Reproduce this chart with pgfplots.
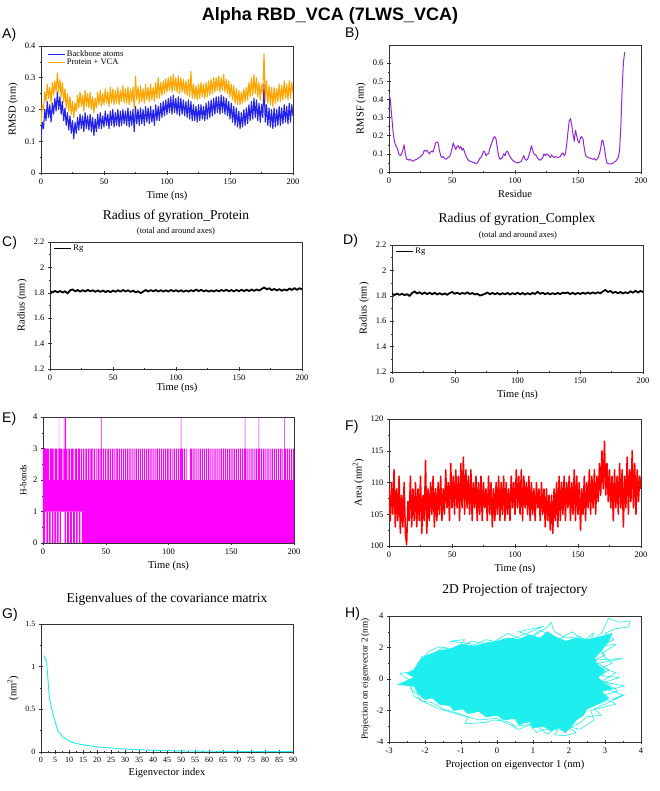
\documentclass[border=0pt]{standalone}
\usepackage{fontspec}
\setmainfont{Liberation Serif}
\newfontfamily\sansf{Liberation Sans}
\usepackage{pgfplots}
\usepackage{pgfplotstable}
\pgfplotsset{compat=1.18}
\definecolor{cBlue}{RGB}{35,35,235}
\definecolor{cOrange}{RGB}{255,165,0}
\definecolor{cPurple}{RGB}{150,40,220}
\definecolor{cMag}{RGB}{255,0,255}
\definecolor{cRed}{RGB}{255,0,0}
\definecolor{cCyan}{RGB}{30,238,238}
\pgfplotsset{
  panel/.style={
    scale only axis, width=252pt, height=127pt, anchor=north west,
    axis line style={line width=0.7pt, black!80},
    tick align=center, xtick pos=bottom, ytick pos=left,
    major tick length=4pt, minor tick length=2.2pt,
    every tick/.style={black!80, line width=0.5pt},
    ticklabel style={font=\fontsize{8.5}{9}\selectfont},
    label style={font=\fontsize{10.5}{12}\selectfont},
    /pgf/number format/assume math mode=true,
    legend style={draw=none, fill=none, font=\fontsize{8.5}{9}\selectfont, row sep=-3pt, inner sep=1pt},
    legend cell align=left,
    legend image post style={sharp plot, line width=0.6pt},
    every axis plot/.append style={line join=round},
  }
}
\pgfplotstableread{
t bb pv
0 0.105 0.150
1 0.160 0.215
2 0.140 0.200
3 0.200 0.255
4 0.165 0.225
5 0.225 0.280
6 0.175 0.235
7 0.215 0.270
8 0.160 0.220
9 0.220 0.285
10 0.185 0.245
11 0.235 0.290
12 0.195 0.255
13 0.255 0.315
14 0.200 0.255
15 0.240 0.295
16 0.185 0.240
17 0.225 0.285
18 0.165 0.225
19 0.205 0.265
20 0.150 0.205
21 0.190 0.250
22 0.135 0.195
23 0.180 0.240
24 0.125 0.185
25 0.165 0.225
26 0.108 0.175
27 0.160 0.220
28 0.125 0.195
29 0.175 0.245
30 0.135 0.205
31 0.185 0.255
32 0.140 0.210
33 0.180 0.245
34 0.130 0.195
35 0.190 0.260
36 0.140 0.210
37 0.180 0.250
38 0.135 0.205
39 0.185 0.255
40 0.130 0.200
41 0.175 0.240
42 0.118 0.190
43 0.170 0.235
44 0.130 0.205
45 0.185 0.255
46 0.140 0.215
47 0.190 0.260
48 0.140 0.210
49 0.180 0.250
50 0.145 0.215
51 0.195 0.265
52 0.150 0.220
53 0.185 0.255
54 0.140 0.210
55 0.195 0.270
56 0.150 0.220
57 0.200 0.265
58 0.145 0.215
59 0.190 0.260
60 0.150 0.220
61 0.200 0.270
62 0.145 0.215
63 0.195 0.260
64 0.150 0.225
65 0.200 0.275
66 0.155 0.220
67 0.195 0.265
68 0.150 0.220
69 0.205 0.270
70 0.145 0.215
71 0.195 0.265
72 0.150 0.225
73 0.200 0.270
74 0.130 0.200
75 0.210 0.305
76 0.155 0.230
77 0.200 0.270
78 0.150 0.220
79 0.205 0.275
80 0.155 0.225
81 0.200 0.265
82 0.150 0.220
83 0.210 0.280
84 0.160 0.230
85 0.205 0.270
86 0.155 0.225
87 0.210 0.280
88 0.160 0.230
89 0.200 0.270
90 0.150 0.225
91 0.215 0.285
92 0.165 0.235
93 0.210 0.300
94 0.165 0.235
95 0.220 0.285
96 0.175 0.245
97 0.225 0.290
98 0.180 0.250
99 0.230 0.295
100 0.185 0.255
101 0.235 0.300
102 0.190 0.260
103 0.240 0.305
104 0.185 0.255
105 0.245 0.310
106 0.190 0.260
107 0.235 0.300
108 0.185 0.255
109 0.240 0.305
110 0.180 0.250
111 0.235 0.300
112 0.185 0.255
113 0.230 0.295
114 0.180 0.250
115 0.225 0.290
116 0.175 0.245
117 0.230 0.295
118 0.170 0.240
119 0.225 0.320
120 0.165 0.235
121 0.215 0.280
122 0.165 0.235
123 0.210 0.275
124 0.160 0.230
125 0.215 0.280
126 0.165 0.235
127 0.215 0.285
128 0.170 0.240
129 0.210 0.280
130 0.165 0.235
131 0.220 0.285
132 0.170 0.240
133 0.225 0.290
134 0.175 0.245
135 0.230 0.295
136 0.180 0.250
137 0.235 0.300
138 0.185 0.255
139 0.240 0.300
140 0.190 0.260
141 0.240 0.305
142 0.185 0.255
143 0.245 0.300
144 0.190 0.260
145 0.240 0.310
146 0.185 0.255
147 0.235 0.295
148 0.180 0.250
149 0.225 0.290
150 0.170 0.240
151 0.220 0.280
152 0.160 0.230
153 0.210 0.275
154 0.150 0.220
155 0.205 0.265
156 0.145 0.215
157 0.195 0.260
158 0.140 0.215
159 0.190 0.255
160 0.145 0.220
161 0.200 0.265
162 0.150 0.225
163 0.205 0.270
164 0.155 0.230
165 0.215 0.285
166 0.165 0.240
167 0.225 0.300
168 0.170 0.245
169 0.235 0.310
170 0.175 0.250
171 0.230 0.300
172 0.165 0.240
173 0.220 0.285
174 0.160 0.230
175 0.215 0.280
176 0.175 0.250
177 0.280 0.375
178 0.160 0.230
179 0.215 0.290
180 0.150 0.220
181 0.205 0.275
182 0.145 0.215
183 0.200 0.270
184 0.140 0.210
185 0.205 0.270
186 0.145 0.220
187 0.200 0.265
188 0.150 0.225
189 0.210 0.280
190 0.150 0.225
191 0.205 0.275
192 0.155 0.230
193 0.215 0.290
194 0.160 0.235
195 0.210 0.280
196 0.155 0.230
197 0.220 0.290
198 0.160 0.235
199 0.215 0.285
200 0.180 0.250
}\rmsd
\pgfplotstableread{
r v
0 0.43
1 0.40
2 0.32
3 0.24
4 0.18
5 0.15
6 0.14
7 0.12
8 0.095
9 0.09
10 0.10
11 0.12
12 0.15
13 0.10
14 0.07
15 0.07
16 0.065
17 0.07
18 0.062
19 0.06
20 0.065
22 0.07
24 0.08
26 0.09
27 0.10
28 0.12
29 0.115
30 0.12
31 0.11
32 0.10
33 0.11
34 0.115
35 0.11
36 0.135
37 0.16
38 0.165
39 0.16
40 0.12
41 0.09
42 0.08
43 0.085
44 0.075
45 0.07
46 0.075
48 0.085
49 0.10
50 0.13
51 0.16
52 0.14
53 0.125
54 0.14
55 0.145
56 0.13
57 0.14
58 0.12
59 0.13
60 0.11
61 0.09
62 0.075
63 0.065
64 0.06
66 0.055
68 0.05
69 0.045
70 0.05
71 0.06
72 0.075
73 0.08
74 0.095
75 0.115
76 0.11
77 0.09
78 0.10
79 0.10
80 0.13
81 0.15
82 0.17
83 0.19
84 0.195
85 0.18
86 0.13
87 0.09
88 0.07
89 0.075
90 0.08
91 0.10
92 0.09
93 0.11
94 0.115
95 0.10
96 0.085
97 0.075
98 0.065
100 0.055
102 0.05
104 0.055
105 0.06
106 0.075
107 0.09
108 0.07
109 0.065
110 0.07
111 0.09
112 0.115
113 0.145
114 0.12
115 0.10
116 0.095
117 0.09
118 0.075
119 0.07
120 0.065
121 0.07
122 0.08
123 0.10
124 0.09
125 0.10
126 0.095
127 0.09
128 0.08
129 0.095
130 0.085
131 0.08
132 0.085
134 0.08
136 0.085
137 0.10
138 0.105
139 0.09
140 0.10
141 0.15
142 0.22
143 0.28
144 0.295
145 0.26
146 0.21
147 0.17
148 0.23
149 0.20
150 0.17
151 0.16
152 0.19
153 0.195
154 0.18
155 0.13
156 0.09
157 0.085
158 0.08
160 0.075
162 0.07
163 0.075
164 0.065
165 0.07
166 0.08
167 0.10
168 0.13
169 0.175
170 0.17
171 0.13
172 0.08
173 0.05
174 0.045
176 0.045
178 0.05
180 0.06
181 0.07
182 0.08
183 0.12
184 0.25
185 0.45
186 0.60
187 0.66
}\rmsf
\pgfplotstableread{
t p c
0 1.812 1.815
2 1.803 1.806
4 1.815 1.817
6 1.804 1.807
8 1.814 1.816
10 1.802 1.805
12 1.812 1.813
14 1.795 1.798
16 1.820 1.822
18 1.826 1.835
20 1.812 1.818
22 1.822 1.828
24 1.809 1.814
26 1.821 1.826
28 1.810 1.813
30 1.823 1.825
32 1.811 1.812
34 1.820 1.824
36 1.808 1.810
38 1.819 1.821
40 1.807 1.809
42 1.818 1.819
44 1.806 1.808
46 1.816 1.822
48 1.805 1.830
50 1.818 1.816
52 1.808 1.825
54 1.820 1.813
56 1.809 1.823
58 1.822 1.815
60 1.810 1.828
62 1.820 1.814
64 1.807 1.822
66 1.817 1.810
68 1.803 1.817
70 1.812 1.802
72 1.797 1.808
74 1.810 1.815
76 1.822 1.826
78 1.810 1.812
80 1.821 1.823
82 1.811 1.811
84 1.822 1.822
86 1.810 1.810
88 1.821 1.821
90 1.809 1.811
92 1.820 1.823
94 1.810 1.810
96 1.822 1.821
98 1.811 1.812
100 1.821 1.824
102 1.810 1.811
104 1.820 1.822
106 1.808 1.810
108 1.819 1.821
110 1.809 1.811
112 1.821 1.823
114 1.812 1.814
116 1.826 1.832
118 1.813 1.815
120 1.823 1.825
122 1.811 1.812
124 1.820 1.822
126 1.809 1.811
128 1.819 1.821
130 1.810 1.812
132 1.821 1.823
134 1.811 1.813
136 1.822 1.825
138 1.814 1.821
140 1.824 1.826
142 1.812 1.813
144 1.822 1.824
146 1.811 1.812
148 1.823 1.823
150 1.812 1.814
152 1.824 1.825
154 1.813 1.815
156 1.825 1.826
158 1.814 1.816
160 1.826 1.827
162 1.815 1.817
164 1.827 1.828
166 1.817 1.820
168 1.830 1.834
170 1.842 1.846
172 1.828 1.830
174 1.836 1.838
176 1.820 1.822
178 1.831 1.832
180 1.818 1.819
182 1.829 1.830
184 1.816 1.818
186 1.827 1.828
188 1.818 1.820
190 1.834 1.836
192 1.822 1.824
194 1.837 1.840
196 1.823 1.825
198 1.836 1.838
200 1.828 1.830
}\rg
\pgfplotstableread{
t a
0 109
1 104
2 110
3 105
4 112
5 103
6 109
7 104
8 111
9 102
10 108
11 103
12 110
13 102
14 100.2
15 107
16 104
17 111
18 103
19 109
20 104
21 110
22 103
23 109
24 104
25 111
26 102
27 108
28 104
29 113.5
30 102
31 109
32 104
33 110
34 105
35 111
36 103
37 109
38 104
39 110
40 105
41 111
42 104
43 109
44 105
45 112
46 106
47 110
48 104
49 113
50 106
51 111
52 105
53 112
54 106
55 111
56 104
57 113
58 106
59 114
60 105
61 112
62 106
63 111
64 105
65 112
66 104
67 110
68 106
69 111
70 104
71 110
72 105
73 111
74 104
75 110
76 106
77 109
78 104
79 111
80 105
81 110
82 103
83 109
84 104
85 110
86 105
87 111
88 104
89 110
90 105
91 111
92 104
93 110
94 105
95 109
96 104
97 111
98 106
99 110
100 105
101 112
102 106
103 111
104 105
105 112
106 104
107 111
108 106
109 110
110 105
111 111
112 104
113 110
114 105
115 109
116 104
117 110
118 106
119 109
120 104
121 110
122 105
123 109
124 103
125 109
126 104
127 108
128 102.5
129 108
130 102
131 109
132 104
133 110
134 103
135 111
136 104
137 110
138 105
139 111
140 104
141 110
142 106
143 111
144 104
145 110
146 105
147 112
148 104
149 111
150 105
151 110
152 102.5
153 109
154 105
155 111
156 104
157 110
158 106
159 112
160 105
161 111
162 106
163 112
164 105
165 111
166 107
167 113
168 108
169 115
170 109
171 116.5
172 108
173 113
174 107
175 112
176 106
177 111
178 104
179 112
180 106
181 111
182 105
183 113
184 106
185 112
186 103
187 111
188 106
189 114
190 105
191 112
192 107
193 115
194 106
195 113
196 105
197 112
198 107
199 111
200 109
}\area
\begin{document}
\begin{tikzpicture}
\useasboundingbox (0pt,0pt) rectangle (659pt,-791pt);
\fill[white] (0pt,0pt) rectangle (659pt,-791pt);
\node[anchor=base] at (330pt,-21pt) {\sansf\bfseries\fontsize{18}{20}\selectfont Alpha RBD\_VCA (7LWS\_VCA)};
\node[anchor=base west, inner sep=0pt] at (2pt,-39pt) {\sansf\fontsize{14}{16}\selectfont A)};
\node[anchor=base west, inner sep=0pt] at (345pt,-38pt) {\sansf\fontsize{14}{16}\selectfont B)};
\node[anchor=base west, inner sep=0pt] at (2pt,-247pt) {\sansf\fontsize{14}{16}\selectfont C)};
\node[anchor=base west, inner sep=0pt] at (343pt,-245pt) {\sansf\fontsize{14}{16}\selectfont D)};
\node[anchor=base west, inner sep=0pt] at (2pt,-422pt) {\sansf\fontsize{14}{16}\selectfont E)};
\node[anchor=base west, inner sep=0pt] at (345pt,-430pt) {\sansf\fontsize{14}{16}\selectfont F)};
\node[anchor=base west, inner sep=0pt] at (2pt,-618pt) {\sansf\fontsize{14}{16}\selectfont G)};
\node[anchor=base west, inner sep=0pt] at (345pt,-617pt) {\sansf\fontsize{14}{16}\selectfont H)};
\node[anchor=base] at (176pt,-220pt) {\fontsize{13.5}{15}\selectfont Radius of gyration\_Protein};
\node[anchor=base] at (176pt,-234pt) {\fontsize{8.5}{9}\selectfont (total and around axes)};
\node[anchor=base] at (517pt,-223pt) {\fontsize{13.5}{15}\selectfont Radius of gyration\_Complex};
\node[anchor=base] at (518pt,-238pt) {\fontsize{8.5}{9}\selectfont (total and around axes)};
\node[anchor=base] at (167pt,-602pt) {\fontsize{13.5}{15}\selectfont Eigenvalues of the covariance matrix};
\node[anchor=base] at (515pt,-593pt) {\fontsize{13.5}{15}\selectfont 2D Projection of trajectory};

% A
\begin{axis}[panel, at={(41pt,-46pt)}, xmin=0, xmax=200, ymin=0, ymax=0.4,
  xtick={0,50,100,150,200}, ytick={0,0.1,0.2,0.3,0.4},
  minor x tick num=1, minor y tick num=1,
  xlabel={Time (ns)}, ylabel={RMSD (nm)},
  legend style={at={(0.02,0.99)}, anchor=north west}]
\addplot[cBlue, line width=1.1pt] table[x=t, y=bb] {\rmsd};
\addlegendentry{Backbone atoms}
\addplot[cOrange, line width=1.1pt] table[x=t, y=pv] {\rmsd};
\addlegendentry{Protein + VCA}
\end{axis}

% B
\begin{axis}[panel, at={(389pt,-45pt)}, xmin=0, xmax=200, ymin=0, ymax=0.7,
  xtick={0,50,100,150,200}, ytick={0,0.1,0.2,0.3,0.4,0.5,0.6},
  minor x tick num=1, minor y tick num=1,
  xlabel={Residue}, ylabel={RMSF (nm)}]
\addplot[cPurple, line width=1pt] table[x=r, y=v] {\rmsf};
\end{axis}

% C
\begin{axis}[panel, at={(50pt,-242pt)}, xmin=0, xmax=200, ymin=1.2, ymax=2.2,
  xtick={0,50,100,150,200}, ytick={1.2,1.4,1.6,1.8,2,2.2},
  minor x tick num=1, minor y tick num=1,
  ylabel={Radius (nm)},
  legend style={at={(0.01,1.0)}, anchor=north west}]
\addplot[black, line width=1.8pt] table[x=t, y=p] {\rg};
\addlegendentry{Rg}
\end{axis}

% D
\begin{axis}[panel, at={(392pt,-245pt)}, width=251pt, xmin=0, xmax=200, ymin=1.2, ymax=2.2,
  xtick={0,50,100,150,200}, ytick={1.2,1.4,1.6,1.8,2,2.2},
  minor x tick num=1, minor y tick num=1,
  xlabel={Time (ns)}, ylabel={Radius (nm)},
  legend style={at={(0.01,1.0)}, anchor=north west}]
\addplot[black, line width=1.8pt] table[x=t, y=c] {\rg};
\addlegendentry{Rg}
\end{axis}

% E
\begin{axis}[panel, at={(43pt,-417pt)}, width=251pt, height=126pt, xmin=0, xmax=200, ymin=0, ymax=4,
  xtick={0,50,100,150,200}, ytick={0,1,2,3,4},
  minor x tick num=1, minor y tick num=1,
  xlabel={Time (ns)}, ylabel={H-bonds},
  ylabel style={font=\fontsize{9}{10}\selectfont}]
\addplot[fill=cMag, draw=none] coordinates {(0,1) (0,2) (200,2) (200,0) (32.5,0) (32.5,1)} -- cycle;
\addplot[const plot, fill=cMag, draw=none] coordinates {
(0,2)(0,3)(4.8,2)(5.6,3)(8.5,2)(9.3,3)(11.5,2)(12.3,3)(12.6,4)(12.9,3)(15.5,2)(16.3,3)(16.6,4)(17.0,3)(17.6,4)(18.3,3)(19.5,2)(20.3,3)(21.5,2)(22.3,3)(24.5,2)(25.3,3)(27.0,2)(27.8,3)(29.5,2)(30.3,3)(31.2,2)(32.0,3)
(33.0,2)(33.8,3)(35.2,2)(36.0,3)(37.0,2)(37.8,3)(39.5,2)(40.3,3)(41.3,2)(42.1,3)(42.8,2)(43.6,3)(45.0,2)(45.8,3)(46.3,4)(46.7,3)(47.0,2)(47.8,3)(48.8,2)(49.6,3)(50.5,2)(51.3,3)(52.6,2)(53.4,3)(54.2,2)(55.0,3)(56.0,2)(56.8,3)(57.7,2)(58.5,3)(59.8,2)(60.6,3)(61.5,2)(62.3,3)(63.0,2)(63.8,3)(64.6,2)(65.4,3)(66.3,2)(67.1,3)(68.0,2)(68.8,3)(69.9,2)(70.7,3)(71.5,2)(72.3,3)(73.0,2)(73.8,3)(74.8,2)(75.6,3)(76.5,2)(77.3,3)(78.1,2)(78.9,3)(79.6,2)(80.4,3)(81.4,2)(82.2,3)(83.0,2)(83.8,3)(84.8,2)(85.6,3)(86.5,2)(87.3,3)(88.2,2)(89.0,3)(89.8,2)(90.6,3)(91.5,2)(92.3,3)(93.1,2)(93.9,3)(94.9,2)(95.7,3)(96.6,2)(97.4,3)(98.2,2)(99.0,3)
(100.0,2)(100.8,3)(101.8,2)(102.6,3)(103.3,2)(104.1,3)(105.0,2)(105.8,3)(106.8,2)(107.6,3)(108.5,2)(109.3,3)(109.8,4)(110.2,3)(111.5,2)(112.3,3)(113.0,2)(113.8,3)(114.5,2)(117.3,3)(119.0,2)(119.8,3)(120.8,2)(121.6,3)(122.4,2)(123.2,3)(124.0,2)(124.8,3)(125.7,2)(126.5,3)(127.3,2)(128.1,3)(129.0,2)(129.8,3)(130.8,2)(131.6,3)(132.5,2)(133.3,3)(134.1,2)(134.9,3)(135.8,2)(136.6,3)(137.5,2)(138.3,3)(139.1,2)(139.9,3)(140.8,2)(141.6,3)(142.6,2)(143.4,3)(144.2,2)(145.0,3)(146.0,2)(146.8,3)(147.6,2)(148.4,3)(149.3,2)(150.1,3)
(151.0,2)(151.8,3)(152.8,2)(153.6,3)(154.4,2)(155.2,3)(156.0,2)(156.8,3)(157.8,2)(158.6,3)(159.5,2)(160.3,3)(160.8,4)(161.2,3)(162.0,2)(162.8,3)(163.6,2)(164.4,3)(165.3,2)(166.1,3)(167.0,2)(167.8,3)(168.7,2)(169.5,3)(170.4,2)(171.2,3)(171.8,4)(172.2,3)(173.0,2)(173.8,3)(174.6,2)(175.4,3)(176.3,2)(177.1,3)(178.0,2)(178.8,3)(179.7,2)(180.5,3)(181.4,2)(182.2,3)(183.1,2)(183.9,3)(184.8,2)(185.6,3)(186.5,2)(187.3,3)(188.2,2)(189.0,3)(190.0,2)(190.8,3)(191.3,2)(192.1,3)(192.3,4)(192.7,3)(193.5,2)(194.3,3)(195.2,2)(196.0,3)(196.9,2)(197.7,3)(198.6,2)(199.4,3)(200,3)(200,2)(0,2)} -- cycle;
\addplot[const plot, fill=cMag, draw=none] coordinates {
(0,1)(0,0)(1.5,1)(2.6,0)(3.8,1)(4.6,0)(6.0,1)(7.0,0)(8.2,1)(9.0,0)(10.2,1)(11.0,0)(12.4,1)(13.2,0)(14.2,1)(17.2,0)(18.2,1)(19.2,0)(20.8,1)(21.6,0)(23.0,1)(24.0,0)(25.4,1)(26.4,0)(27.6,1)(28.6,0)(29.8,1)(31.0,0)(32.5,0)(32.5,1)(0,1)} -- cycle;
\end{axis}

% F
\begin{axis}[panel, at={(389pt,-419pt)}, xmin=0, xmax=200, ymin=100, ymax=120,
  xtick={0,50,100,150,200}, ytick={100,105,110,115,120},
  minor x tick num=1, minor y tick num=1,
  xlabel={Time (ns)}, ylabel={Area (nm\textsuperscript{2})}]
\addplot[cRed, line width=1.5pt] table[x=t, y=a] {\area};
\end{axis}

% G
\begin{axis}[panel, at={(41pt,-624pt)}, height=128pt, xmin=0, xmax=90, ymin=0, ymax=1.5,
  xtick={0,5,...,90}, ytick={0,0.5,1,1.5},
  minor x tick num=1, minor y tick num=1,
  ticklabel style={font=\fontsize{8}{9}\selectfont},
  xlabel={Eigenvector index}, ylabel={(nm\textsuperscript{2})},
  xlabel style={yshift=2pt}]
\addplot[cCyan, line width=0.9pt] coordinates {
(1,1.13)(2,1.06)(3,0.63)(4,0.48)(5,0.36)(6,0.25)(7,0.21)(8,0.17)(9,0.15)(10,0.13)(11,0.115)(12,0.105)(13,0.098)(14,0.09)(15,0.085)(16,0.08)(17,0.075)(18,0.07)(19,0.065)(20,0.06)(22,0.055)(24,0.05)(26,0.045)(28,0.04)(30,0.035)(33,0.03)(36,0.025)(40,0.02)(45,0.016)(50,0.013)(55,0.011)(60,0.009)(70,0.007)(80,0.005)(90,0.004)};
\end{axis}

% H
\begin{axis}[panel, at={(389pt,-616pt)}, height=126pt, xmin=-3, xmax=4, ymin=-4, ymax=4,
  xtick={-3,-2,-1,0,1,2,3,4}, ytick={-4,-2,0,2,4},
  minor x tick num=1, minor y tick num=1,
  xlabel={Projection on eigenvector 1 (nm)}, ylabel={Projection on eigenvector 2 (nm)},
  ylabel style={font=\fontsize{9.2}{10}\selectfont}]
\addplot[fill=cCyan, draw=cCyan, line width=0.6pt] coordinates {
(-2.75,-0.35)(-2.3,-0.45)(-2.2,-0.9)(-2.0,-1.3)(-1.8,-1.2)(-1.6,-1.6)(-1.3,-1.7)(-1.2,-2.0)(-0.95,-1.9)(-0.8,-2.2)(-0.5,-2.05)(-0.3,-2.4)(0.0,-2.3)(0.2,-2.6)(0.5,-2.5)(0.6,-2.9)(0.9,-2.7)(1.0,-3.1)(1.3,-3.0)(1.5,-3.3)(1.7,-3.1)(1.9,-3.4)(2.1,-2.9)(2.2,-2.6)(2.4,-2.3)(2.5,-1.9)(2.8,-1.6)(3.0,-1.4)(3.1,-1.2)(2.9,-0.8)(3.2,-0.6)(3.0,-0.3)(2.8,0.1)(3.0,0.5)(2.8,0.9)(2.7,1.3)(2.9,1.8)(3.1,2.4)(3.2,2.9)(2.9,2.7)(2.5,2.5)(2.2,2.6)(1.9,2.4)(1.6,2.7)(1.4,3.0)(1.2,2.6)(0.9,2.8)(0.6,2.5)(0.3,2.6)(0.0,2.4)(-0.3,2.3)(-0.6,2.1)(-1.0,2.2)(-1.3,1.9)(-1.6,1.8)(-1.9,1.5)(-2.1,1.3)(-2.2,1.0)(-2.3,0.6)(-2.5,0.35)(-2.3,0.1)} -- cycle;
\addplot[cCyan, line width=0.6pt] coordinates {
(-2.3,-0.3)(-2.75,-0.35)(-2.2,-0.45)(-2.7,0.35)(-2.0,0.6)(-2.1,1.4)(-1.7,1.7)(-1.5,2.0)(-1.1,1.9)(-0.9,2.5)(-1.3,2.4)(-0.6,2.2)(-0.3,2.5)(0.1,2.3)(0.5,2.6)(1.3,3.35)(0.6,3.0)(1.0,2.7)(1.4,3.3)(1.5,3.6)(1.6,3.0)(1.9,2.6)(2.3,2.7)(2.6,2.3)(2.9,2.9)(3.1,3.85)(3.4,3.6)(3.7,3.7)(3.65,3.3)(3.3,3.2)(3.0,2.9)(3.25,2.5)(2.8,2.0)(3.0,1.5)(2.7,1.2)(3.5,1.3)(2.8,1.0)(3.1,0.6)(2.9,0.2)(3.4,0.1)(3.0,-0.2)(3.55,-0.45)(3.1,-0.7)(3.5,-1.0)(3.2,-1.3)(3.55,-1.0)(3.0,-1.6)(2.7,-1.9)(2.9,-2.3)(2.5,-2.4)(2.3,-2.8)(2.0,-3.1)(2.2,-3.4)(1.9,-3.6)(1.6,-3.55)(1.7,-3.2)(1.3,-3.2)(1.1,-3.4)(0.9,-2.9)(0.5,-3.0)(0.3,-2.7)(-0.1,-2.6)(-0.3,-2.75)(-0.9,-2.85)(-0.8,-2.4)(-1.2,-2.1)(-1.5,-1.9)(-1.8,-1.5)(-2.1,-1.4)(-2.2,-1.0)(-2.4,-0.6)(-2.3,-0.3)};
\addplot[cCyan, line width=0.6pt] coordinates {
(-2.4,0.2)(-1.9,1.75)(-1.6,2.05)(-1.2,1.8)(-0.7,2.4)(-0.2,2.2)(0.3,2.9)(0.8,2.4)(1.2,3.1)(1.7,2.5)(2.1,3.0)(2.4,2.4)(2.7,2.95)(2.5,2.0)(3.3,2.2)(2.9,1.6)(3.2,1.0)(2.9,0.7)(3.3,0.4)(2.95,-0.1)(3.35,-0.75)(2.9,-1.1)(3.3,-1.6)(2.6,-2.0)(2.7,-2.6)(2.3,-3.2)(1.8,-2.9)(1.4,-3.5)(1.0,-2.8)(0.6,-3.2)(0.0,-2.5)(-0.5,-2.6)(-1.0,-2.3)(-1.6,-1.9)(-2.0,-1.5)(-2.3,-1.1)(-2.45,-0.2)};
\end{axis}
\node[anchor=base, text=black] at (177pt,-390pt) {\fontsize{10.5}{12}\selectfont Time (ns)};
\end{tikzpicture}
\end{document}
